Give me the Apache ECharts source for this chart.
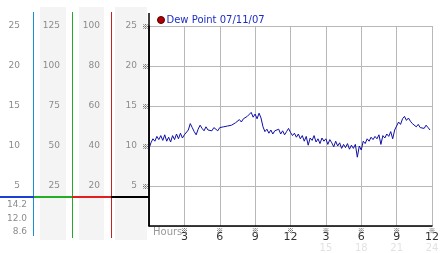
<!DOCTYPE html>
<html><head><meta charset="utf-8">
<script src="https://cdn.jsdelivr.net/npm/echarts@6/dist/echarts.min.js"></script>
<style>html,body{margin:0;padding:0;background:#fff}#c{width:442px;height:253px}</style>
</head><body><div id="c"></div>
<script>
// ---- data ----
const seriesName = 'Dew Point 07/11/07';
const sampleStepHours = 1 / 6; // one reading every 10 minutes
const dewPoint = [
  9.7, 10.4, 10.9, 10.6, 11.2, 10.8, 11.3,
  10.7, 11.4, 10.6, 11.1, 10.5, 11.3,
  10.8, 11.5, 10.9, 11.6, 11.0, 11.4,
  11.2, 12.0, 12.8, 12.3, 11.8, 11.4,
  12.1, 12.6, 12.2, 11.9, 12.4, 12.0,
  12.2, 11.9, 12.3, 12.1, 11.9, 12.3,
  12.1, 12.4, 12.2, 12.5, 12.3, 12.6,
  12.5, 12.9, 12.8, 13.3, 13.0, 13.4,
  13.2, 13.7, 13.5, 14.2, 13.6, 14.0,
  13.4, 14.1, 13.5, 12.4, 11.8, 12.1,
  11.6, 12.0, 11.5, 11.9, 11.7, 12.1,
  11.5, 11.9, 11.4, 11.8, 12.2, 11.7,
  11.3, 11.6, 11.1, 11.5, 10.9, 11.3,
  10.6, 11.2, 10.1, 11.0, 10.7, 11.3,
  10.5, 10.9, 10.3, 11.0, 10.6, 10.9,
  10.2, 10.8, 10.4, 9.9, 10.6, 10.0,
  10.4, 9.7, 10.2, 9.8, 10.3, 9.6,
  10.1, 9.7, 10.2, 8.6, 10.0, 9.5,
  10.6, 10.3, 10.9, 10.6, 11.1, 10.8,
  11.2, 10.9, 11.4, 10.2, 11.3, 11.0,
  11.5, 11.2, 11.8, 10.9, 12.0, 11.9,
  13.0, 12.7, 13.4, 13.7, 13.2, 13.5,
  13.1, 12.8, 13.0, 12.4, 12.7, 12.3,
  12.5, 12.2, 12.6, 12.3, 12.0
];
const statLabels = ['14.2', '12.0', '8.6'];
const xTickLabels = ['3', '6', '9', '12', '3', '6', '9', '12'];
const xFaintLabels = ['', '', '', '', '15', '18', '21', '24'];
const yTicksMain = [5, 10, 15, 20, 25];
const yTicksRed = [20, 40, 60, 80, 100];
const yTicksGreen = [25, 50, 75, 100, 125];
const yTicksBlue = [5, 10, 15, 20, 25];

// ---- chart ----
const FONT = 'DejaVu Sans, Noto Sans CJK SC, sans-serif';
const MARKFONT = 'Noto Sans CJK SC, DejaVu Sans, sans-serif';
const GREY = '#8c8c8c';
const lineData = dewPoint.map((v, i) => [i * sampleStepHours, v]);

function scaleAxis(ticks, offset, margin) {
  return {
    type: 'value', position: 'left', offset: offset,
    min: 0, max: ticks[ticks.length - 1], interval: ticks[0],
    axisLine: {show: false}, axisTick: {show: false}, splitLine: {show: false},
    axisLabel: {color: GREY, fontSize: 9, fontFamily: FONT, margin: margin,
      formatter: v => (v === 0 ? '' : String(v))}
  };
}

const chart = echarts.init(document.getElementById('c'), null, {renderer: 'canvas'});
chart.setOption({
  animation: false,
  backgroundColor: '#fff',
  grid: {left: 149, top: 26, width: 290, height: 200, containLabel: false},
  legend: {
    left: 157, top: 15, padding: 0, icon: 'circle', itemWidth: 7, itemHeight: 7, itemGap: 0,
    data: [{name: seriesName, itemStyle: {color: '#b00000', borderColor: '#500000', borderWidth: 1}}],
    textStyle: {color: '#1c2cc4', fontSize: 10, fontFamily: FONT, padding: [0, 0, 0, -3]}
  },
  xAxis: [
    {type: 'value', min: 0, max: 24, interval: 3,
      axisLine: {show: true, lineStyle: {color: '#000', width: 1.5}},
      axisTick: {show: false},
      splitLine: {show: true, lineStyle: {color: '#b8b8b8', width: 1}},
      axisLabel: {color: '#333', fontSize: 11, fontFamily: FONT, margin: 6,
        formatter: v => (v === 0 ? '' : xTickLabels[Math.round(v / 3) - 1])}},
    {type: 'value', min: 0, max: 24, interval: 3, position: 'bottom', offset: 0,
      axisLine: {show: false}, axisTick: {show: false}, splitLine: {show: false},
      axisLabel: {color: '#333', fontSize: 7, fontFamily: MARKFONT, margin: 1,
        formatter: v => (v === 0 ? '' : '※')}},
    {type: 'value', min: 0, max: 24, interval: 3, position: 'bottom', offset: 0,
      axisLine: {show: false}, axisTick: {show: false}, splitLine: {show: false},
      axisLabel: {color: '#e2e2e2', fontSize: 10, fontFamily: FONT, margin: 17,
        formatter: v => (v === 0 ? '' : xFaintLabels[Math.round(v / 3) - 1])}}
  ],
  yAxis: [
    {type: 'value', position: 'left', offset: 0, min: 0, max: 25, interval: yTicksMain[0],
      axisLine: {show: true, lineStyle: {color: '#000', width: 1.5}},
      axisTick: {show: false},
      splitLine: {show: true, lineStyle: {color: '#b8b8b8', width: 1}},
      axisLabel: {color: GREY, fontSize: 9, fontFamily: FONT, margin: 12,
        formatter: v => (v === 0 ? '' : String(v))}},
    {type: 'value', position: 'left', offset: 0, min: 0, max: 25, interval: yTicksMain[0],
      axisLine: {show: false}, axisTick: {show: false}, splitLine: {show: false},
      axisLabel: {color: '#333', fontSize: 7, fontFamily: MARKFONT, margin: 0,
        formatter: v => (v === 0 ? '' : '※')}},
    scaleAxis(yTicksRed, 38, 11),
    scaleAxis(yTicksGreen, 77, 12),
    scaleAxis(yTicksBlue, 116, 13)
  ],
  graphic: [
    {type: 'rect', z: -5, shape: {x: 40, y: 7, width: 26, height: 233}, style: {fill: '#f4f4f4'}},
    {type: 'rect', z: -5, shape: {x: 79, y: 7, width: 25, height: 233}, style: {fill: '#f4f4f4'}},
    {type: 'rect', z: -5, shape: {x: 115, y: 7, width: 32, height: 233}, style: {fill: '#f4f4f4'}},
    {type: 'rect', z: 10, shape: {x: 33, y: 12, width: 1, height: 224}, style: {fill: '#1890d8'}},
    {type: 'rect', z: 10, shape: {x: 72, y: 12, width: 1, height: 226}, style: {fill: '#28a828'}},
    {type: 'rect', z: 10, shape: {x: 111, y: 12, width: 1, height: 226}, style: {fill: '#c82020'}},
    {type: 'line', z: 10, shape: {x1: 149, y1: 13, x2: 149, y2: 226}, style: {stroke: '#000', lineWidth: 1.5}},
    {type: 'rect', z: 11, shape: {x: 0, y: 196, width: 34, height: 2}, style: {fill: '#1a40d8'}},
    {type: 'rect', z: 11, shape: {x: 34, y: 196, width: 38, height: 2}, style: {fill: '#22b022'}},
    {type: 'rect', z: 11, shape: {x: 72, y: 196, width: 39, height: 2}, style: {fill: '#e02020'}},
    {type: 'rect', z: 11, shape: {x: 111, y: 196, width: 38, height: 2}, style: {fill: '#000'}},
    {type: 'text', z: 10, x: 27, y: 204.5, style: {text: statLabels[0], fill: GREY, font: '9px ' + FONT, textAlign: 'right', textVerticalAlign: 'middle'}},
    {type: 'text', z: 10, x: 27, y: 218.5, style: {text: statLabels[1], fill: GREY, font: '9px ' + FONT, textAlign: 'right', textVerticalAlign: 'middle'}},
    {type: 'text', z: 10, x: 27, y: 232, style: {text: statLabels[2], fill: GREY, font: '9px ' + FONT, textAlign: 'right', textVerticalAlign: 'middle'}},
    {type: 'text', z: 10, x: 153, y: 232, style: {text: 'Hours', fill: '#999', font: '10px ' + FONT, textAlign: 'left', textVerticalAlign: 'middle'}}
  ],
  series: [{
    name: seriesName, type: 'line', xAxisIndex: 0, yAxisIndex: 0,
    data: lineData, showSymbol: false, symbol: 'none',
    lineStyle: {color: '#1010a8', width: 1}, itemStyle: {color: '#1010a8'}
  }]
});
</script></body></html>
